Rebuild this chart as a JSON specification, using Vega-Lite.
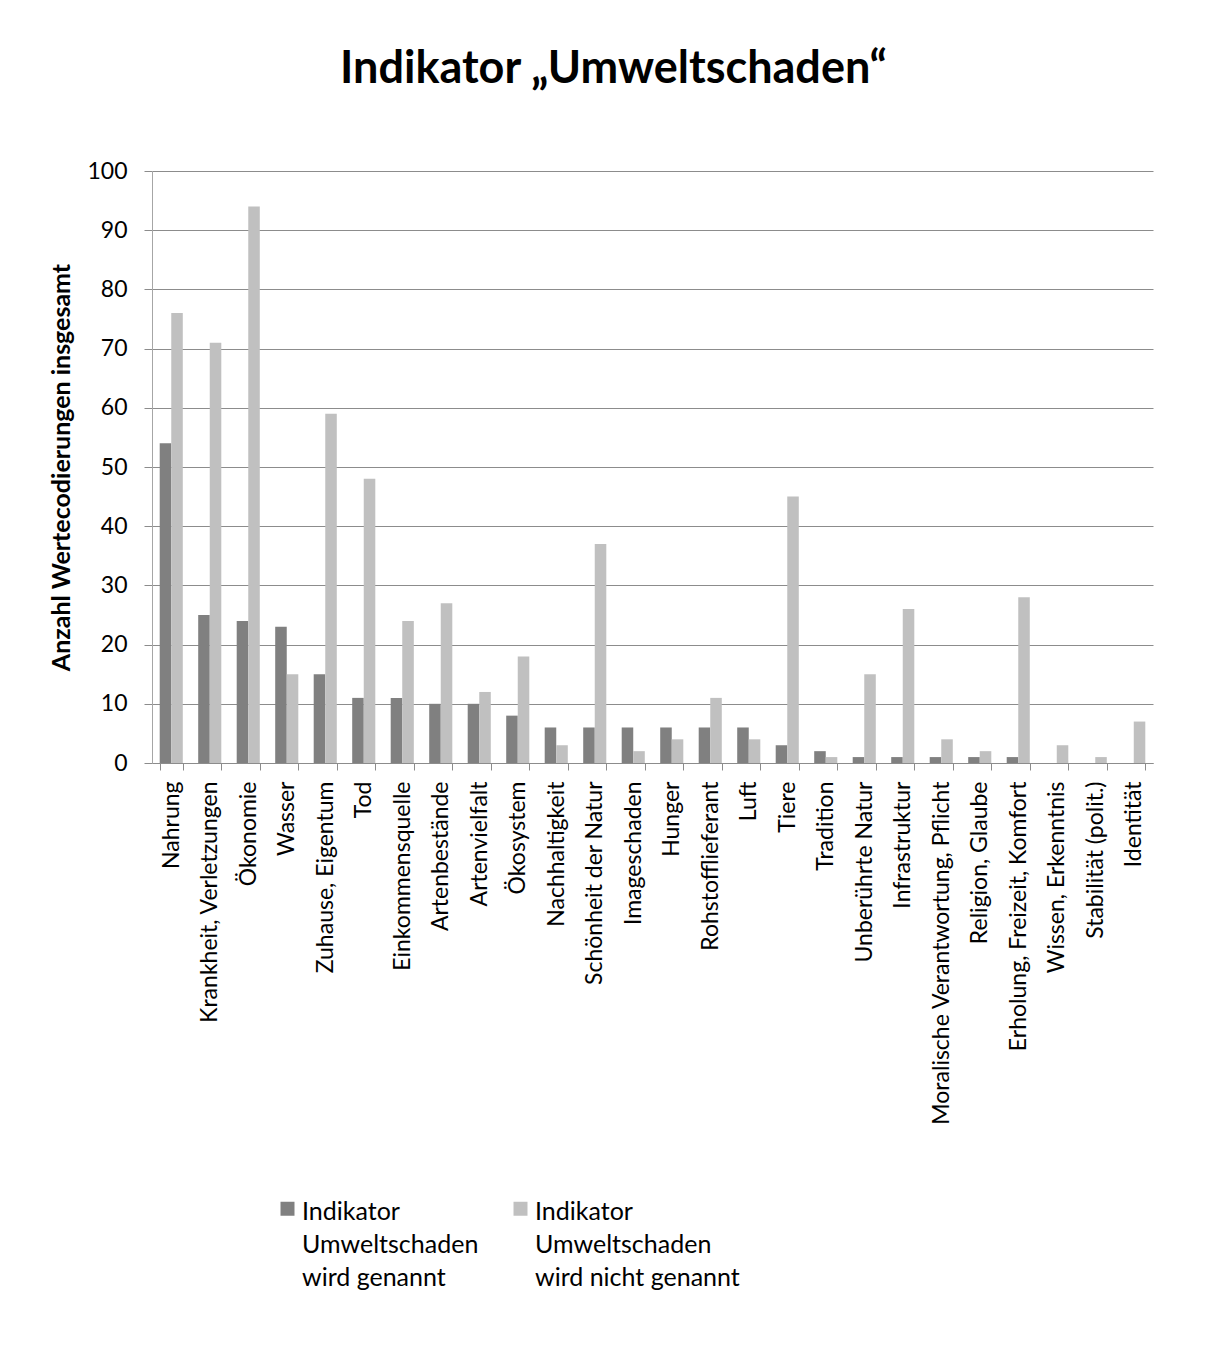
{
  "$schema": "https://vega.github.io/schema/vega-lite/v6.json",
  "width": 1001,
  "height": 592,
  "autosize": {"type": "none"},
  "padding": {"left": 152, "top": 171, "right": 62, "bottom": 584},
  "background": "white",
  "title": {
    "text": "Indikator „Umweltschaden“",
    "font": "Lato",
    "fontSize": 45,
    "fontWeight": "bold",
    "color": "black",
    "anchor": "middle",
    "dx": -39,
    "offset": 68
  },
  "data": {
    "values": [
      {"Kategorie": "Nahrung", "Gruppe": "Indikator Umweltschaden wird genannt", "Anzahl": 54},
      {"Kategorie": "Nahrung", "Gruppe": "Indikator Umweltschaden wird nicht genannt", "Anzahl": 76},
      {"Kategorie": "Krankheit, Verletzungen", "Gruppe": "Indikator Umweltschaden wird genannt", "Anzahl": 25},
      {"Kategorie": "Krankheit, Verletzungen", "Gruppe": "Indikator Umweltschaden wird nicht genannt", "Anzahl": 71},
      {"Kategorie": "Ökonomie", "Gruppe": "Indikator Umweltschaden wird genannt", "Anzahl": 24},
      {"Kategorie": "Ökonomie", "Gruppe": "Indikator Umweltschaden wird nicht genannt", "Anzahl": 94},
      {"Kategorie": "Wasser", "Gruppe": "Indikator Umweltschaden wird genannt", "Anzahl": 23},
      {"Kategorie": "Wasser", "Gruppe": "Indikator Umweltschaden wird nicht genannt", "Anzahl": 15},
      {"Kategorie": "Zuhause, Eigentum", "Gruppe": "Indikator Umweltschaden wird genannt", "Anzahl": 15},
      {"Kategorie": "Zuhause, Eigentum", "Gruppe": "Indikator Umweltschaden wird nicht genannt", "Anzahl": 59},
      {"Kategorie": "Tod", "Gruppe": "Indikator Umweltschaden wird genannt", "Anzahl": 11},
      {"Kategorie": "Tod", "Gruppe": "Indikator Umweltschaden wird nicht genannt", "Anzahl": 48},
      {"Kategorie": "Einkommensquelle", "Gruppe": "Indikator Umweltschaden wird genannt", "Anzahl": 11},
      {"Kategorie": "Einkommensquelle", "Gruppe": "Indikator Umweltschaden wird nicht genannt", "Anzahl": 24},
      {"Kategorie": "Artenbestände", "Gruppe": "Indikator Umweltschaden wird genannt", "Anzahl": 10},
      {"Kategorie": "Artenbestände", "Gruppe": "Indikator Umweltschaden wird nicht genannt", "Anzahl": 27},
      {"Kategorie": "Artenvielfalt", "Gruppe": "Indikator Umweltschaden wird genannt", "Anzahl": 10},
      {"Kategorie": "Artenvielfalt", "Gruppe": "Indikator Umweltschaden wird nicht genannt", "Anzahl": 12},
      {"Kategorie": "Ökosystem", "Gruppe": "Indikator Umweltschaden wird genannt", "Anzahl": 8},
      {"Kategorie": "Ökosystem", "Gruppe": "Indikator Umweltschaden wird nicht genannt", "Anzahl": 18},
      {"Kategorie": "Nachhaltigkeit", "Gruppe": "Indikator Umweltschaden wird genannt", "Anzahl": 6},
      {"Kategorie": "Nachhaltigkeit", "Gruppe": "Indikator Umweltschaden wird nicht genannt", "Anzahl": 3},
      {"Kategorie": "Schönheit der Natur", "Gruppe": "Indikator Umweltschaden wird genannt", "Anzahl": 6},
      {"Kategorie": "Schönheit der Natur", "Gruppe": "Indikator Umweltschaden wird nicht genannt", "Anzahl": 37},
      {"Kategorie": "Imageschaden", "Gruppe": "Indikator Umweltschaden wird genannt", "Anzahl": 6},
      {"Kategorie": "Imageschaden", "Gruppe": "Indikator Umweltschaden wird nicht genannt", "Anzahl": 2},
      {"Kategorie": "Hunger", "Gruppe": "Indikator Umweltschaden wird genannt", "Anzahl": 6},
      {"Kategorie": "Hunger", "Gruppe": "Indikator Umweltschaden wird nicht genannt", "Anzahl": 4},
      {"Kategorie": "Rohstofflieferant", "Gruppe": "Indikator Umweltschaden wird genannt", "Anzahl": 6},
      {"Kategorie": "Rohstofflieferant", "Gruppe": "Indikator Umweltschaden wird nicht genannt", "Anzahl": 11},
      {"Kategorie": "Luft", "Gruppe": "Indikator Umweltschaden wird genannt", "Anzahl": 6},
      {"Kategorie": "Luft", "Gruppe": "Indikator Umweltschaden wird nicht genannt", "Anzahl": 4},
      {"Kategorie": "Tiere", "Gruppe": "Indikator Umweltschaden wird genannt", "Anzahl": 3},
      {"Kategorie": "Tiere", "Gruppe": "Indikator Umweltschaden wird nicht genannt", "Anzahl": 45},
      {"Kategorie": "Tradition", "Gruppe": "Indikator Umweltschaden wird genannt", "Anzahl": 2},
      {"Kategorie": "Tradition", "Gruppe": "Indikator Umweltschaden wird nicht genannt", "Anzahl": 1},
      {"Kategorie": "Unberührte Natur", "Gruppe": "Indikator Umweltschaden wird genannt", "Anzahl": 1},
      {"Kategorie": "Unberührte Natur", "Gruppe": "Indikator Umweltschaden wird nicht genannt", "Anzahl": 15},
      {"Kategorie": "Infrastruktur", "Gruppe": "Indikator Umweltschaden wird genannt", "Anzahl": 1},
      {"Kategorie": "Infrastruktur", "Gruppe": "Indikator Umweltschaden wird nicht genannt", "Anzahl": 26},
      {"Kategorie": "Moralische Verantwortung, Pflicht", "Gruppe": "Indikator Umweltschaden wird genannt", "Anzahl": 1},
      {"Kategorie": "Moralische Verantwortung, Pflicht", "Gruppe": "Indikator Umweltschaden wird nicht genannt", "Anzahl": 4},
      {"Kategorie": "Religion, Glaube", "Gruppe": "Indikator Umweltschaden wird genannt", "Anzahl": 1},
      {"Kategorie": "Religion, Glaube", "Gruppe": "Indikator Umweltschaden wird nicht genannt", "Anzahl": 2},
      {"Kategorie": "Erholung, Freizeit, Komfort", "Gruppe": "Indikator Umweltschaden wird genannt", "Anzahl": 1},
      {"Kategorie": "Erholung, Freizeit, Komfort", "Gruppe": "Indikator Umweltschaden wird nicht genannt", "Anzahl": 28},
      {"Kategorie": "Wissen, Erkenntnis", "Gruppe": "Indikator Umweltschaden wird genannt", "Anzahl": 0},
      {"Kategorie": "Wissen, Erkenntnis", "Gruppe": "Indikator Umweltschaden wird nicht genannt", "Anzahl": 3},
      {"Kategorie": "Stabilität (polit.)", "Gruppe": "Indikator Umweltschaden wird genannt", "Anzahl": 0},
      {"Kategorie": "Stabilität (polit.)", "Gruppe": "Indikator Umweltschaden wird nicht genannt", "Anzahl": 1},
      {"Kategorie": "Identität", "Gruppe": "Indikator Umweltschaden wird genannt", "Anzahl": 0},
      {"Kategorie": "Identität", "Gruppe": "Indikator Umweltschaden wird nicht genannt", "Anzahl": 7}
    ]
  },
  "mark": {"type": "bar"},
  "encoding": {
    "x": {
      "field": "Kategorie",
      "type": "nominal",
      "sort": null,
      "scale": {"paddingInner": 0.4, "paddingOuter": 0.2},
      "axis": {
        "title": null,
        "labelAngle": -90,
        "labelFont": "Lato",
        "labelFontSize": 23,
        "labelColor": "black",
        "labelPadding": 11,
        "labelLimit": 0,
        "tickSize": 7,
        "tickBand": "extent",
        "tickColor": "#8c8c8c",
        "domainColor": "#8c8c8c"
      }
    },
    "xOffset": {"field": "Gruppe", "sort": null, "scale": {"paddingInner": 0}},
    "y": {
      "field": "Anzahl",
      "type": "quantitative",
      "scale": {"domain": [0, 100], "nice": false},
      "axis": {
        "title": "Anzahl Wertecodierungen insgesamt",
        "titleFont": "Lato",
        "titleFontSize": 25,
        "titleFontWeight": "bold",
        "titleColor": "black",
        "titlePadding": 12,
        "values": [0, 10, 20, 30, 40, 50, 60, 70, 80, 90, 100],
        "labelFont": "Lato",
        "labelFontSize": 23,
        "labelColor": "black",
        "labelPadding": 17,
        "tickSize": 8,
        "tickColor": "#8c8c8c",
        "domainColor": "#a6a6a6",
        "grid": true,
        "gridColor": "#8c8c8c"
      }
    },
    "color": {
      "field": "Gruppe",
      "type": "nominal",
      "sort": null,
      "scale": {"range": ["#808080", "#c0c0c0"]},
      "legend": {
        "title": null,
        "orient": "none",
        "legendX": 123,
        "legendY": 1025,
        "direction": "horizontal",
        "columns": 2,
        "columnPadding": 29,
        "symbolType": "square",
        "symbolSize": 196,
        "symbolStrokeWidth": 0,
        "symbolOffset": 0,
        "labelFont": "Lato",
        "labelFontSize": 25,
        "labelColor": "black",
        "labelLimit": 0,
        "labelOffset": 2,
        "labelBaseline": "top",
        "labelExpr": "[slice(datum.label, 0, 9), slice(datum.label, 10, 23), slice(datum.label, 24)]",
        "encode": {"labels": {"update": {"lineHeight": {"value": 33}, "dy": {"value": -9}}}}
      }
    }
  },
  "config": {"view": {"stroke": null}}
}
